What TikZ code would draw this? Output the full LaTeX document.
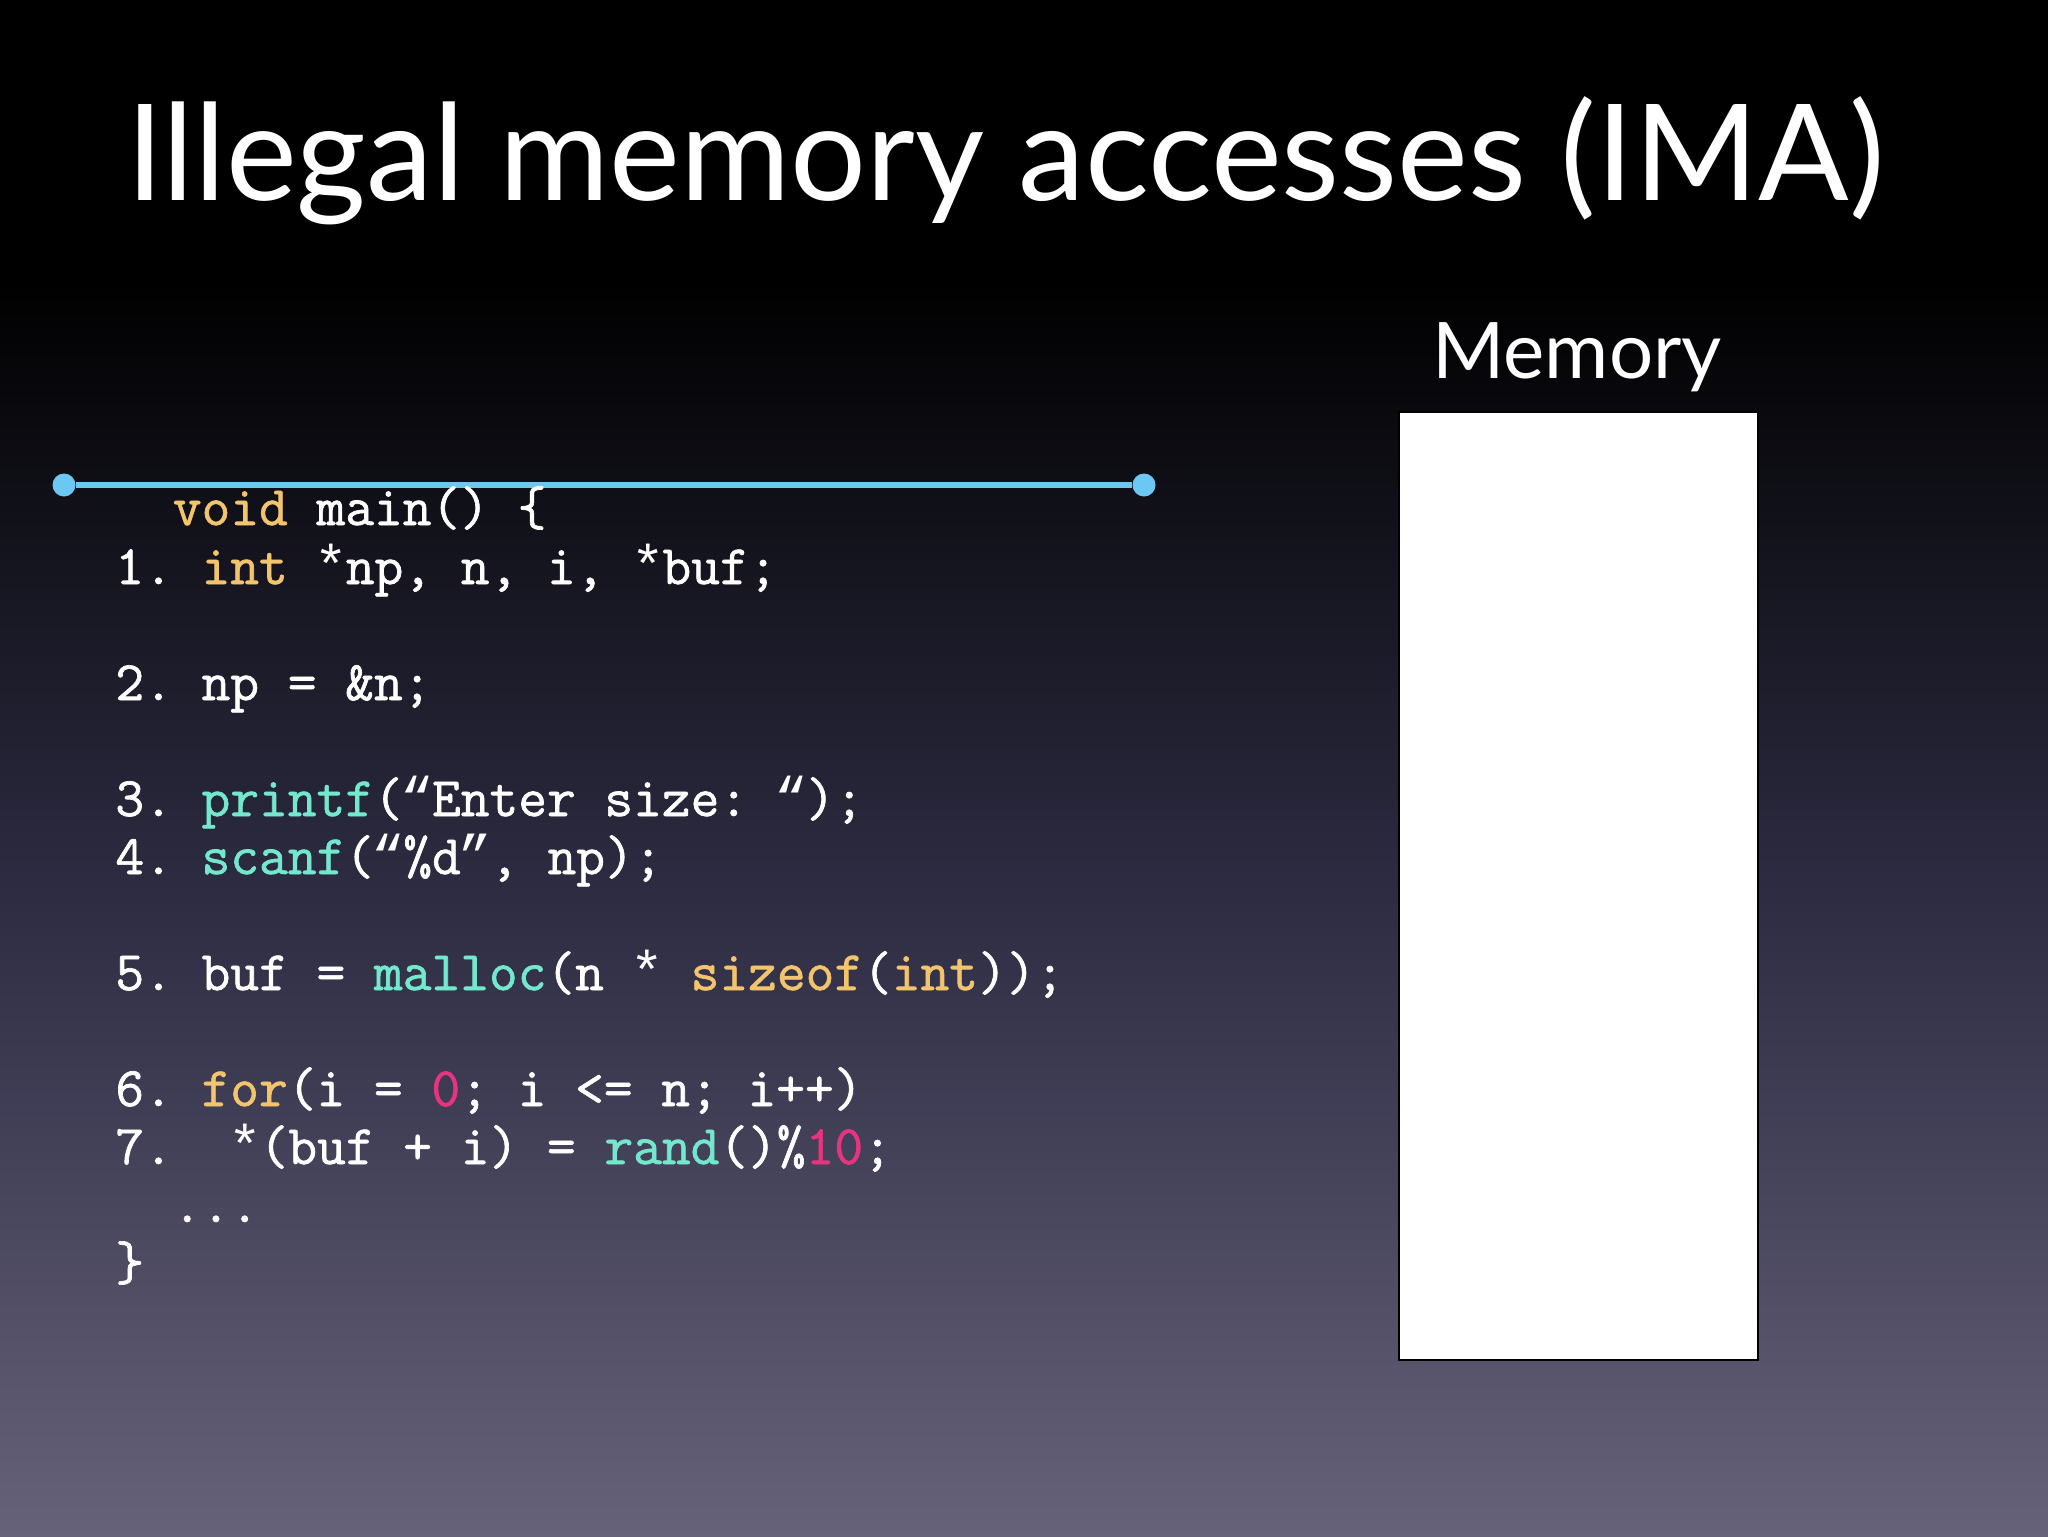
\documentclass[tikz,border=0pt]{standalone}
\usepackage{fontspec}
\setmainfont{Lato}
\newfontfamily\codefnt[FakeBold=1.2]{Latin Modern Mono}
\newfontfamily\quotefnt{Liberation Mono}
\definecolor{kwc}{HTML}{F2C46D}
\definecolor{fnc}{HTML}{74E8CC}
\definecolor{numc}{HTML}{E8347E}
\definecolor{linec}{HTML}{6CC8F2}
\definecolor{bgmid}{HTML}{2E2D44}
\definecolor{bgbot}{HTML}{66627A}
\newcommand{\kw}[1]{\textcolor{kwc}{#1}}
\newcommand{\fn}[1]{\textcolor{fnc}{#1}}
\newcommand{\nm}[1]{\textcolor{numc}{#1}}
\newcommand{\oq}{\makebox[0.525em]{\quotefnt “}}
\newcommand{\cq}{\makebox[0.525em]{\quotefnt ”}}
\newcommand{\cstar}{\makebox[0.525em]{\quotefnt *}}
\begin{document}
\begin{tikzpicture}[x=0.5pt,y=-0.5pt,
  codeline/.style={anchor=base west, inner sep=0pt, text=white, font=\codefnt\fontsize{27.9pt}{30pt}\selectfont\frenchspacing},
  dotend/.style={circle, fill=linec, inner sep=0pt, minimum size=11.5pt},
  titletext/.style={anchor=base west, inner sep=0pt, text=white, font=\fontsize{67pt}{80pt}\selectfont},
  memlabel/.style={anchor=base, inner sep=0pt, text=white, font=\fontsize{39pt}{44pt}\selectfont},
  membox/.style={draw=black, fill=white, line width=1pt, inner sep=0pt, minimum width=179.5pt, minimum height=474pt, anchor=north west}]
\useasboundingbox (0,0) rectangle (2048,1536);
\fill[black] (0,0) rectangle (2048,1536);
\shade[top color=black, bottom color=bgbot, middle color=bgmid] (0,280) rectangle (2048,1536);
\node[titletext] (title) at (126,200) {Illegal memory accesses (IMA)};
\node[memlabel] (memlbl) at (1577,378) {Memory};
\node[membox] (mem) at (1398,411) {};
\node[dotend] (la) at (64,485) {};
\node[dotend] (lb) at (1144,485) {};
\draw[linec, line width=3pt] (la) -- (lb);
\node[codeline] (c0) at (115,525) {\ \ \kw{void} main() \{};
\node[codeline] (c1) at (115,584) {1. \kw{int} \cstar np, n, i, \cstar buf;};
\node[codeline] (c2) at (115,700) {2. np = \&n;};
\node[codeline] (c3) at (115,816) {3. \fn{printf}(\oq Enter size: \oq);};
\node[codeline] (c4) at (115,874) {4. \fn{scanf}(\oq\%d\cq, np);};
\node[codeline] (c5) at (115,990) {5. buf = \fn{malloc}(n \cstar{} \kw{sizeof}(\kw{int}));};
\node[codeline] (c6) at (115,1106) {6. \kw{for}(i = \nm{0}; i <= n; i++)};
\node[codeline] (c7) at (115,1164) {7.\ \ \cstar(buf + i) = \fn{rand}()\%\nm{10};};
\node[codeline] (c8) at (115,1222) {\ \ ...};
\node[codeline] (c9) at (115,1280) {\}};
\end{tikzpicture}
\end{document}
